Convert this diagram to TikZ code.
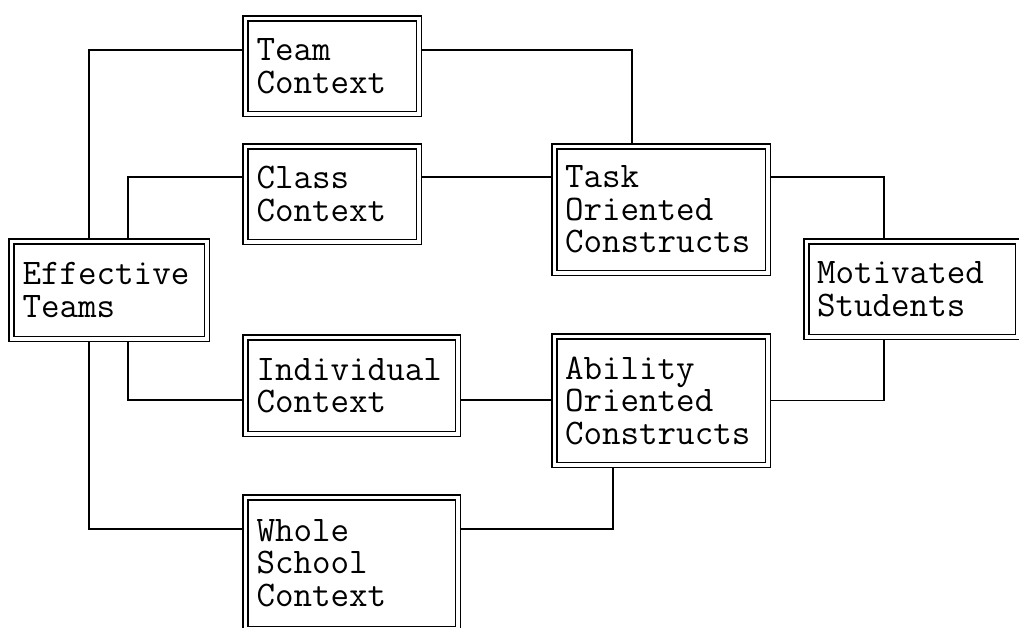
\documentclass[tikz,border=0pt]{standalone}
\usepackage{fontspec}
\usetikzlibrary{backgrounds}
\begin{document}
\begin{tikzpicture}[x=1pt,y=-1pt,
  box/.style={draw, fill=white, double, line width=1.5pt, double distance=3.5pt,
    rectangle, inner sep=0pt, align=left,
    font=\ttfamily\fontsize{36}{32.5}\selectfont},
  link/.style={draw, line width=1.5pt}]
\useasboundingbox (0,0) rectangle (1019,627);
% boxes (outer pixel extents minus double width)
\node[box, minimum width=173.5pt, minimum height=95.5pt, text width=151pt] (team) at (332,66) {Team\\Context};
\node[box, minimum width=173.5pt, minimum height=95.5pt, text width=151pt] (class) at (332,194) {Class\\Context};
\node[box, minimum width=195.5pt, minimum height=97.5pt, text width=173pt] (eff) at (109,290) {Effective\\Teams};
\node[box, minimum width=212.5pt, minimum height=96.5pt, text width=190pt] (indiv) at (351.5,385.5) {Individual\\Context};
\node[box, minimum width=212.5pt, minimum height=131.5pt, text width=190pt] (whole) at (351.5,563) {Whole\\School\\Context};
\node[box, minimum width=213.5pt, minimum height=126.5pt, text width=192pt] (task) at (661,209.5) {Task\\Oriented\\Constructs};
\node[box, minimum width=211.5pt, minimum height=95.5pt, text width=190pt] (motiv) at (912,289) {Motivated\\Students};
\node[box, minimum width=213.5pt, minimum height=128.5pt, text width=192pt] (abil) at (661,400.5) {Ability\\Oriented\\Constructs};
\begin{scope}[on background layer]
  \fill[white] (0,0) rectangle (1019,627);
  % Effective Teams to the contexts
  \path[link] ([xshift=-20pt]eff.north) |- ([yshift=16pt]team.west);
  \path[link] ([xshift=19pt]eff.north) |- ([yshift=17pt]class.west);
  \path[link] ([xshift=19pt]eff.south) |- ([yshift=-14.5pt]indiv.west);
  \path[link] ([xshift=-20pt]eff.south) |- ([yshift=34pt]whole.west);
  % contexts to constructs
  \path[link] ([yshift=16pt]team.east) -| ([xshift=-29pt]task.north);
  \coordinate (c1) at ([yshift=17pt]class.east);
  \path[link] (c1) -- (c1 -| task.west);
  \coordinate (c2) at ([yshift=-14.5pt]indiv.east);
  \path[link] (c2) -- (c2 -| abil.west);
  \path[link] ([yshift=34pt]whole.east) -| ([xshift=-48pt]abil.south);
  % constructs to Motivated Students
  \path[link] ([yshift=32.5pt]task.east) -| ([xshift=-28pt]motiv.north);
  \path[link] ([xshift=-28pt]motiv.south) |- (abil.east);
\end{scope}
\end{tikzpicture}
\end{document}
